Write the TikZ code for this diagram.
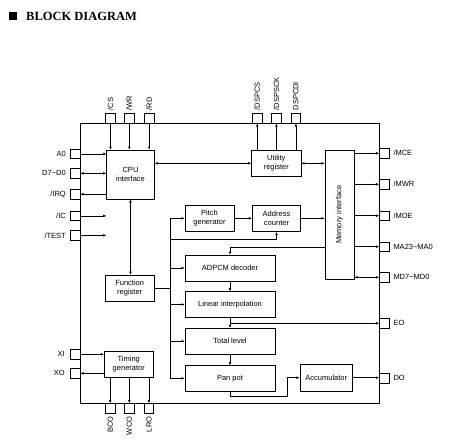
\documentclass[tikz,border=0pt]{standalone}
\usepackage{fontspec}
\setmainfont{Liberation Sans}
\newfontfamily\titlefont{Liberation Serif}
\usetikzlibrary{arrows.meta, positioning, calc}

\tikzset{
    blk/.style={draw, line width=0.6pt, inner sep=0pt, align=center, font=\fontsize{7.5}{8.5}\selectfont},
    pin/.style={draw, line width=0.6pt, minimum width=9.5pt, minimum height=9.5pt, inner sep=0pt},
    lbl/.style={font=\fontsize{7.5}{8.5}\selectfont, inner sep=0pt},
    wire/.style={line width=0.5pt},
    arr/.style={wire, -{Latex[length=3.2pt,width=2.6pt]}},
    darr/.style={wire, {Latex[length=3.2pt,width=2.6pt]}-{Latex[length=3.2pt,width=2.6pt]}}
}

\begin{document}
\begin{tikzpicture}[x=1pt, y=-1pt]
    \useasboundingbox (0,0) rectangle (451,447);

    % Title
    \fill (9,12.3) rectangle (16.8,20);
    \node[anchor=west, inner sep=0pt, font=\titlefont\bfseries\fontsize{12.5}{14}\selectfont] (title) at (26,16.3) {BLOCK DIAGRAM};

    % Chip outline
    \draw[line width=1pt] (80,123.3) rectangle (379,403.3);

    % Blocks
    \node[blk, minimum width=47.6pt, minimum height=49pt] (cpu) at (130.5,174.5) {CPU\\interface};
    \node[blk, minimum width=49.3pt, minimum height=26.7pt] (util) at (276.3,163.3) {Utility\\register};
    \node[blk, minimum width=29pt, minimum height=129.3pt] (mem) at (339.5,214.7) {\rotatebox{90}{Memory interface}};
    \node[blk, minimum width=49pt, minimum height=26.7pt] (pitch) at (209.5,218.3) {Pitch\\generator};
    \node[blk, minimum width=48.4pt, minimum height=26.7pt] (addr) at (276.5,218.3) {Address\\counter};
    \node[blk, minimum width=49.3pt, minimum height=26pt] (func) at (129.7,288) {Function\\register};
    \node[blk, minimum width=90pt, minimum height=26pt] (adpcm) at (230,268) {ADPCM decoder};
    \node[blk, minimum width=90pt, minimum height=25.6pt] (linear) at (230,304.5) {Linear interpolation};
    \node[blk, minimum width=90pt, minimum height=25.7pt] (total) at (230,341.2) {Total level};
    \node[blk, minimum width=90pt, minimum height=25.3pt] (pan) at (230,378.3) {Pan pot};
    \node[blk, minimum width=52.7pt, minimum height=26.7pt] (accum) at (326.3,377.7) {Accumulator};
    \node[blk, minimum width=49pt, minimum height=26.7pt] (timing) at (128.8,364.3) {Timing\\generator};

    % Left pins
    \node[pin] (pA0) at (75.3,154) {};
    \node[pin] (pD) at (75.3,173.3) {};
    \node[pin] (pIRQ) at (75.3,194.2) {};
    \node[pin] (pIC) at (75.3,215.9) {};
    \node[pin] (pTEST) at (75.3,235.4) {};
    \node[pin] (pXI) at (75.3,354.3) {};
    \node[pin] (pXO) at (75.3,373.3) {};
    \node[lbl, anchor=east] at (66,154) {A0};
    \node[lbl, anchor=east] at (66,173.3) {D7\textasciitilde D0};
    \node[lbl, anchor=east] at (66,194.2) {/IRQ};
    \node[lbl, anchor=east] at (66,215.9) {/IC};
    \node[lbl, anchor=east] at (66,235.4) {/TEST};
    \node[lbl, anchor=east] at (65,354.3) {XI};
    \node[lbl, anchor=east] at (65,373.3) {XO};

    % Right pins
    \node[pin] (pMCE) at (384.2,153.3) {};
    \node[pin] (pMWR) at (384.2,184.3) {};
    \node[pin] (pMOE) at (384.2,215.7) {};
    \node[pin] (pMA) at (384.2,246.7) {};
    \node[pin] (pMD) at (384.2,277.3) {};
    \node[pin] (pEO) at (384.2,323.3) {};
    \node[pin] (pDO) at (384.2,378.3) {};
    \node[lbl, anchor=west] at (393.3,153.3) {/MCE};
    \node[lbl, anchor=west] at (393.3,184.3) {/MWR};
    \node[lbl, anchor=west] at (393.3,215.7) {/MOE};
    \node[lbl, anchor=west] at (393.3,246.7) {MA23\textasciitilde MA0};
    \node[lbl, anchor=west] at (393.3,277.3) {MD7\textasciitilde MD0};
    \node[lbl, anchor=west] at (393.3,323.3) {EO};
    \node[lbl, anchor=west] at (393.3,378.3) {DO};

    % Top pins
    \node[pin] (pCS) at (110.5,118.4) {};
    \node[pin] (pWR) at (129.3,118.4) {};
    \node[pin] (pRD) at (149.2,118.4) {};
    \node[pin] (pDSPCS) at (257.3,118.4) {};
    \node[pin] (pDSPSCK) at (276.4,118.4) {};
    \node[pin] (pDSPCDI) at (295.9,118.4) {};
    \node[lbl, anchor=west, rotate=90] at (110.5,110.5) {/CS};
    \node[lbl, anchor=west, rotate=90] at (129.3,110.5) {/WR};
    \node[lbl, anchor=west, rotate=90] at (149.2,110.5) {/RD};
    \node[lbl, anchor=west, rotate=90] at (257.3,110.5) {/DSPCS};
    \node[lbl, anchor=west, rotate=90] at (276.4,110.5) {/DSPSCK};
    \node[lbl, anchor=west, rotate=90] at (295.9,110.5) {DSPCDI};

    % Bottom pins
    \node[pin] (pBCO) at (110.2,408.3) {};
    \node[pin] (pWCO) at (129.3,408.3) {};
    \node[pin] (pLRO) at (149,408.3) {};
    \node[lbl, anchor=east, rotate=90] at (110.2,416.5) {BCO};
    \node[lbl, anchor=east, rotate=90] at (129.3,416.5) {WCO};
    \node[lbl, anchor=east, rotate=90] at (149,416.5) {LRO};

    % CPU side
    \draw[arr] (pA0.east) -- (cpu.west |- pA0);
    \draw[darr] (pD.east) -- (cpu.west |- pD);
    \draw[arr] (cpu.west |- pIRQ) -- (pIRQ.east);
    \draw[arr] (pIC.east) -- (cpu.west |- pIC);
    \draw[arr] (pTEST.east) -- (cpu.west |- pTEST);
    \draw[arr] (pCS.south) -- (pCS.south |- cpu.north);
    \draw[arr] (pWR.south) -- (pWR.south |- cpu.north);
    \draw[arr] (pRD.south) -- (pRD.south |- cpu.north);
    \draw[darr] (cpu.south) -- (cpu.south |- func.north);
    \draw[darr] (cpu.east |- util) -- (util.west);

    % Utility register and memory interface
    \draw[arr] (util.north -| pDSPCS) -- (pDSPCS.south);
    \draw[arr] (util.north -| pDSPSCK) -- (pDSPSCK.south);
    \draw[arr] (util.north -| pDSPCDI) -- (pDSPCDI.south);
    \draw[darr] (util.east) -- (mem.west |- util);
    \draw[arr] (mem.east |- pMCE) -- (pMCE.west);
    \draw[arr] (mem.east |- pMWR) -- (pMWR.west);
    \draw[arr] (mem.east |- pMOE) -- (pMOE.west);
    \draw[arr] (mem.east |- pMA) -- (pMA.west);
    \draw[darr] (mem.east |- pMD) -- (pMD.west);

    % Function register bus
    \coordinate (bustop) at (170,218.3);
    \coordinate (acbranch) at (170,239.3);
    \coordinate (memtap) at (325,247);
    \draw[wire] (bustop) -- (bustop |- pan);
    \draw[wire] (func.east) -- (func.east -| bustop);
    \draw[arr] (bustop) -- (pitch.west);
    \draw[arr] (acbranch) -| (addr.south);
    \draw[arr] (bustop |- adpcm) -- (adpcm.west);
    \draw[arr] (bustop |- linear) -- (linear.west);
    \draw[arr] (bustop |- total) -- (total.west);
    \draw[arr] (bustop |- pan) -- (pan.west);

    % Sound path
    \draw[arr] (pitch.east) -- (addr.west);
    \draw[arr] (addr.east) -- (mem.west |- addr);
    \draw[arr] (memtap) -| (adpcm.north);
    \draw[arr] (adpcm.south) -- (linear.north);
    \draw[arr] (linear.south) -- (total.north);
    \draw[arr] (total.south) -- (pan.north);
    \draw[arr] (linear.south |- pEO) -- (pEO.west);
    \coordinate (pjog) at (287.7,396);
    \draw[arr] (pan.south) |- (pjog) |- (accum.west);
    \draw[arr] (accum.east) -- (pDO.west |- accum);

    % Timing generator
    \draw[arr] (pXI.east) -- (timing.west |- pXI);
    \draw[arr] (timing.west |- pXO) -- (pXO.east);
    \draw[arr] (timing.south -| pBCO) -- (pBCO.north);
    \draw[arr] (timing.south -| pWCO) -- (pWCO.north);
    \draw[arr] (timing.south -| pLRO) -- (pLRO.north);
\end{tikzpicture}
\end{document}
